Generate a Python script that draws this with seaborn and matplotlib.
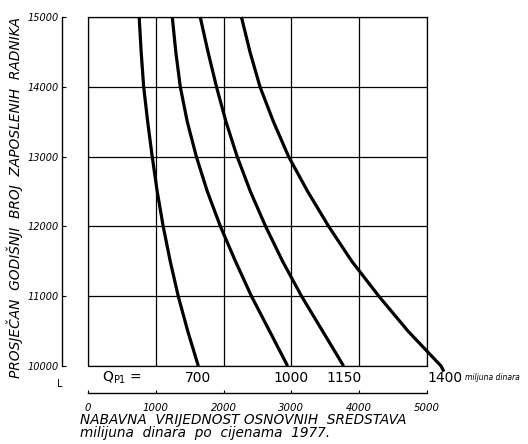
import matplotlib
matplotlib.use("Agg")
import matplotlib.pyplot as plt
import pandas as pd
import seaborn as sns

# Average yearly number of employed workers (y) along each curve
workers = [15000, 14500, 14000, 13500, 13000, 12500, 12000, 11500, 11000, 10500, 10000]
workers_1400 = workers + [9920]

# Purchase value of fixed assets (x), million dinars
q700 = [755, 784, 821, 880, 947, 1021, 1109, 1213, 1331, 1471, 1627]
q1000 = [1243, 1295, 1361, 1464, 1598, 1760, 1953, 2175, 2411, 2678, 2944]
q1150 = [1655, 1770, 1895, 2035, 2200, 2395, 2620, 2870, 3150, 3460, 3770]
q1400 = [2263, 2389, 2537, 2735, 2959, 3240, 3550, 3891, 4290, 4720, 5207, 5250]

curve_names = ["700", "1000", "1150", "1400"]
curve_label_x = [1627, 2990, 3770, 5000]

x_ticks = [0, 1000, 2000, 3000, 4000, 5000]
y_ticks = [10000, 11000, 12000, 13000, 14000, 15000]

frames = []
for name, xs, ys in zip(curve_names, [q700, q1000, q1150, q1400],
                        [workers, workers, workers, workers_1400]):
    frames.append(pd.DataFrame({"value": xs, "workers": ys, "Q": name}))
df = pd.concat(frames, ignore_index=True)

sns.set_style("white")
plt.rcParams["font.family"] = ["DejaVu Sans"]

W, H = 528, 444
fig = plt.figure(figsize=(W / 100, H / 100), dpi=100)
ax = fig.add_axes([88 / W, 78 / H, (427 - 88) / W, (366 - 17) / H])

sns.lineplot(data=df, x="value", y="workers", units="Q", estimator=None,
             sort=False, color="black", linewidth=2.3, ax=ax, legend=False)
for ln in ax.lines:
    ln.set_clip_on(False)
    ln.set_solid_capstyle("butt")
    ln.set_solid_joinstyle("round")

ax.set_xlim(0, 5000)
ax.set_ylim(10000, 15000)
ax.set_xticks(x_ticks)
ax.set_yticks(y_ticks)
ax.set_xticklabels([str(v) for v in x_ticks])
ax.set_yticklabels([str(v) for v in y_ticks])
ax.grid(True, color="black", linewidth=0.9)
ax.axvline(0, color="black", linewidth=0.9, clip_on=False)
ax.axhline(10000, color="black", linewidth=0.9, clip_on=False)

for side in ["top", "right"]:
    ax.spines[side].set_visible(True)
    ax.spines[side].set_color("black")
    ax.spines[side].set_linewidth(0.9)
ax.spines["left"].set_position(("outward", 18.7))
ax.spines["bottom"].set_position(("outward", 19.4))
for side in ["left", "bottom"]:
    ax.spines[side].set_color("black")
    ax.spines[side].set_linewidth(1.0)

ax.tick_params(axis="y", direction="in", length=3, width=0.8, labelsize=7,
               pad=2, colors="black", left=True)
ax.tick_params(axis="x", direction="in", length=2, width=0.8, labelsize=7.3,
               pad=7, colors="black", bottom=True)
for lbl in ax.get_xticklabels() + ax.get_yticklabels():
    lbl.set_fontstyle("italic")
ax.set_xlabel("")
ax.set_ylabel("")

# curve labels row
row_y = 9830
ax.text(503, row_y, r"Q$_{\mathregular{P1}}$ =", ha="center", va="center",
        fontsize=10, color="black")
for name, xv in zip(curve_names, curve_label_x):
    ha = "left" if name == "1400" else "center"
    ax.text(xv, row_y, name, ha=ha, va="center", fontsize=10, color="black")
ax.text(5560, row_y, "miljuna dinara", ha="left", va="center", fontsize=5.5,
        fontstyle="italic", color="black")

fig.text(60 / W, 1 - 384 / H, "L", fontsize=7, ha="center", va="center",
         color="black")

fig.text(80 / W, 1 - 420 / H, "NABAVNA  VRIJEDNOST OSNOVNIH  SREDSTAVA",
         fontsize=9.8, fontstyle="italic", ha="left", va="center", color="black")
fig.text(80 / W, 1 - 433 / H, "milijuna  dinara  po  cijenama  1977.",
         fontsize=9.8, fontstyle="italic", ha="left", va="center", color="black")
fig.text(15 / W, 1 - 198 / H, "PROSJEČAN  GODIŠNJI  BROJ  ZAPOSLENIH  RADNIKA",
         fontsize=9.9, fontstyle="italic", rotation=90, ha="center", va="center",
         color="black")

fig.savefig("out.png", dpi=100, facecolor="white")
